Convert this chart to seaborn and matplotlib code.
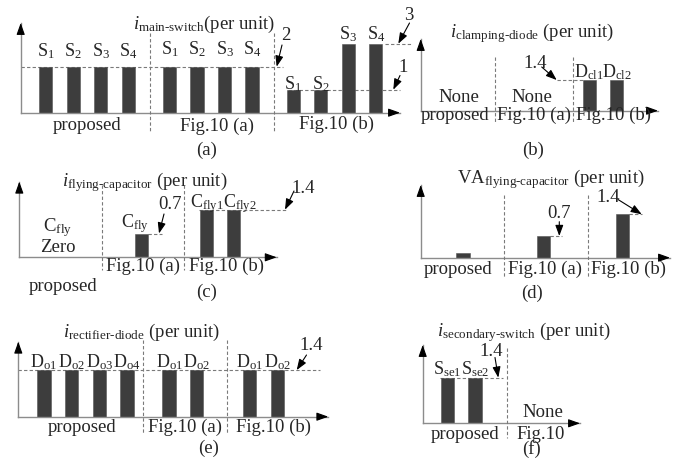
import numpy as np
import pandas as pd
import matplotlib.pyplot as plt
from matplotlib.lines import Line2D
import seaborn as sns

W, H = 697, 472

# ---- data (per unit values) ----
groups = ['proposed', 'Fig.10 (a)', 'Fig.10 (b)']

a_labels = [['S$_1$', 'S$_2$', 'S$_3$', 'S$_4$'],
            ['S$_1$', 'S$_2$', 'S$_3$', 'S$_4$'],
            ['S$_1$', 'S$_2$', 'S$_3$', 'S$_4$']]
a_values = [[2, 2, 2, 2], [2, 2, 2, 2], [1, 1, 3, 3]]

b_labels = [[], [], [r'D$_{\mathrm{cl1}}$', r'D$_{\mathrm{cl2}}$']]
b_values = [[], [], [1.4, 1.4]]

c_labels = [[], [r'C$_{\mathrm{fly}}$'], [r'C$_{\mathrm{fly1}}$', r'C$_{\mathrm{fly2}}$']]
c_values = [[], [0.7], [1.4, 1.4]]

d_labels = [[''], [''], ['']]
d_values = [[0.14], [0.7], [1.4]]

e_labels = [[r'D$_{\mathrm{o1}}$', r'D$_{\mathrm{o2}}$', r'D$_{\mathrm{o3}}$', r'D$_{\mathrm{o4}}$'],
            [r'D$_{\mathrm{o1}}$', r'D$_{\mathrm{o2}}$'],
            [r'D$_{\mathrm{o1}}$', r'D$_{\mathrm{o2}}$']]
e_values = [[1.4, 1.4, 1.4, 1.4], [1.4, 1.4], [1.4, 1.4]]

f_labels = [[r'S$_{\mathrm{se1}}$', r'S$_{\mathrm{se2}}$'], []]
f_values = [[1.4, 1.4], []]

# ---- style ----
sns.set_style('white')
plt.rcParams['font.family'] = ['Liberation Serif', 'DejaVu Serif']
plt.rcParams['mathtext.fontset'] = 'custom'
plt.rcParams['mathtext.rm'] = 'Liberation Serif'
plt.rcParams['mathtext.it'] = 'Liberation Serif:italic'

BAR = '#3d3d3d'
AXC = '#8c8c8c'
DASH = '#7a7a7a'
BAR_PX = 13.3
FS = 13.5

fig = plt.figure(figsize=(W / 100, H / 100), dpi=100)


def fxy(x, y):
    return x / W, 1 - y / H


# layout of every panel, in pixels of the 697x472 picture
# arrows: (text, text x, text baseline y, tail x, tail y, tip x, level)
panels = [
    dict(labels=a_labels, values=a_values, frame=(20.7, 112.7, 400, 23),
         pitch=27.5, first=45.8, yscale=23, starts=[0, 4.5, 9],
         lab_off=[[10] * 4, [12] * 4, [0.5, 0.5, 4, 4]],
         title=(133, 29.3, r'$i_{\text{main-switch}}$(per unit)'),
         texts=[('proposed', 87.3, 130), ('Fig.10 (a)', 217.3, 130.5), ('Fig.10 (b)', 336.7, 128.5)],
         letter=(206.7, 155, '(a)'), seps=([150, 274], 33, 132),
         refs=[(2, 20.7, 283.3), (1, 288, 400), (3, 385, 412)],
         arrows=[('2', 286, 40, 282, 45, 276.7, 2), ('1', 403.3, 71.7, 400, 75.5, 393.3, 1),
                 ('3', 408.3, 20, 409.5, 23, 398.3, 3)]),
    dict(labels=b_labels, values=b_values, frame=(420.7, 110.7, 658, 39),
         pitch=27.3, first=589.3, yscale=21.9, starts=[None, None, 0],
         lab_off=[None, None, [3, 3]],
         title=(450, 37.7, r'$i_{\text{clamping-diode}}$ (per unit)'),
         texts=[('proposed', 455, 120), ('Fig.10 (a)', 534, 120), ('Fig.10 (b)', 614, 120),
                ('None', 459, 102), ('None', 531.7, 102)],
         letter=(532.7, 155, '(b)'), seps=([495, 573.3], 57, 122),
         refs=[(1.4, 556.7, 583)],
         arrows=[('1.4', 535, 68.3, 541.7, 67, 556.7, 1.4)]),
    dict(labels=c_labels, values=c_values, frame=(19.3, 257.3, 276.7, 181.7),
         pitch=27.3, first=141.7, yscale=34, starts=[None, 0, 2.37],
         lab_off=[None, [6], [2, 2]], lab_dx=[None, [-7], [0, 6]],
         title=(61.7, 186, r'$i_{\text{flying-capacitor}}$ (per unit)'),
         texts=[('Fig.10 (a)', 143.3, 270.7), ('Fig.10 (b)', 226.7, 270.7), ('proposed', 63.3, 291),
                (r'C$_{\mathrm{fly}}$', 58, 231.7), ('Zero', 58, 251.7)],
         letter=(206.7, 296.7, '(c)'), seps=([101.7, 184.3], 185, 270),
         refs=[(0.7, 148, 161.7), (1.4, 199, 286.7)],
         arrows=[('0.7', 170, 209.3, 164, 214, 159, 0.7), ('1.4', 303.3, 193.3, 294, 191, 285, 1.4)]),
    dict(labels=d_labels, values=d_values, frame=(420.7, 257.7, 670, 185),
         pitch=27.3, first=463, yscale=31, starts=[0, 2.94, 5.84],
         lab_off=[None, None, None],
         title=(456.7, 183.3, r'VA$_{\text{flying-capacitor}}$ (per unit)'),
         texts=[('proposed', 458.3, 274), ('Fig.10 (a)', 545, 274), ('Fig.10 (b)', 628.3, 274)],
         letter=(531.7, 298.3, '(d)'), seps=([504, 587.7], 195, 277.7),
         refs=[(0.7, 550, 561.7), (1.4, 629, 641.7)],
         arrows=[('0.7', 559.3, 218.3, 559.3, 221.7, 559.3, 0.7),
                 ('1.4', 608.3, 201.7, 618, 199.5, 641.7, 1.4)]),
    dict(labels=e_labels, values=e_values, frame=(18.3, 416.7, 328.3, 341.7),
         pitch=27.67, first=44, yscale=33.3, starts=[0, 4.52, 7.43],
         lab_off=[[3] * 4, [3] * 2, [3] * 2],
         title=(63.3, 337.3, r'$i_{\text{rectifier-diode}}$ (per unit)'),
         texts=[('proposed', 81.7, 431.7), ('Fig.10 (a)', 185, 431.7), ('Fig.10 (b)', 273.3, 431.7)],
         letter=(208.3, 452.7, '(e)'), seps=([143.3, 226.7], 340, 433.3),
         refs=[(1.4, 18.3, 320)],
         arrows=[('1.4', 311, 349.5, 306.5, 355, 296.7, 1.4)]),
    dict(labels=f_labels, values=f_values, frame=(422.7, 423.3, 580, 345),
         pitch=27.7, first=447.3, yscale=32.6, starts=[0, None],
         lab_off=[[3, 3], None],
         title=(437.3, 336.7, r'$i_{\text{secondary-switch}}$ (per unit)'),
         texts=[('proposed', 465, 439.3), ('Fig.10', 540.7, 439.3), ('None', 543.3, 417.3)],
         letter=(531.7, 454, '(f)'), seps=([507.3], 348.3, 438.3),
         refs=[(1.4, 440, 503.3)],
         arrows=[('1.4', 491, 356, 495, 357.5, 498.3, 1.4)]),
]

head = dict(arrowstyle='-|>,head_length=0.7,head_width=0.25', mutation_scale=10,
            color='black', lw=0.8, shrinkA=0, shrinkB=0)
pointer = dict(arrowstyle='-|>,head_length=0.65,head_width=0.24', mutation_scale=10,
               color='black', lw=0.8, shrinkA=0, shrinkB=0)

for P in panels:
    ox, oy, tx, ty = P['frame']
    ax = fig.add_axes([ox / W, 1 - oy / H, (tx - ox) / W, (oy - ty) / H])
    ax.set_facecolor('none')
    pitch, first = P['pitch'], P['first']

    def dx(px, pitch=pitch, first=first):
        return (px - first) / pitch

    lab_dx = P.get('lab_dx', [None] * len(P['labels']))
    rows = []
    for g, (labs, vals) in enumerate(zip(P['labels'], P['values'])):
        for i, (lab, v) in enumerate(zip(labs, vals)):
            off = P['lab_off'][g][i] if P['lab_off'][g] else 0
            shift = lab_dx[g][i] if lab_dx[g] else 0
            rows.append(dict(pos=P['starts'][g] + i, value=v, label=lab, off=off, shift=shift))
    df = pd.DataFrame(rows)
    pos = np.unique(df['pos'])
    native = np.diff(pos).min() if len(pos) > 1 else 1
    sns.barplot(data=df, x='pos', y='value', native_scale=True, orient='x',
                width=BAR_PX / pitch / native, color=BAR, saturation=1,
                edgecolor='#555555', linewidth=0.4, errorbar=None, ax=ax, zorder=2)

    ax.set_xlim(dx(ox), dx(tx))
    ax.set_ylim(0, (oy - ty) / P['yscale'])
    ax.set_xticks([])
    ax.set_yticks([])
    ax.set_xlabel('')
    ax.set_ylabel('')
    for s in ['top', 'right']:
        ax.spines[s].set_visible(False)
    for s in ['left', 'bottom']:
        ax.spines[s].set_color(AXC)
        ax.spines[s].set_linewidth(1.0)
    ax.annotate('', xy=(0, 1), xycoords='axes fraction', xytext=(0, -7),
                textcoords='offset points', arrowprops=head, annotation_clip=False)
    ax.annotate('', xy=(1, 0), xycoords='axes fraction', xytext=(-7, 0),
                textcoords='offset points', arrowprops=head, annotation_clip=False)

    # bar labels
    for _, r in df.iterrows():
        if r['label']:
            ax.annotate(r['label'], xy=(r['pos'], r['value']),
                        xytext=(r['shift'] * 0.72, r['off'] * 0.72),
                        textcoords='offset points', ha='center', va='baseline',
                        fontsize=FS - 0.5, annotation_clip=False)

    # dashed reference levels
    for v, x0, x1 in P['refs']:
        ax.hlines(v, dx(x0), dx(x1), colors=DASH, linestyles=(0, (3, 2)), lw=0.8,
                  clip_on=False, zorder=1)

    # value pointers: text in picture pixels, arrow tip on the level line
    for txt, x, y, ax_, ay_, tipx, v in P['arrows']:
        fig.text(*fxy(x, y), txt, ha='center', va='baseline', fontsize=FS)
        ax.annotate('', xy=(dx(tipx), v), xycoords='data', xytext=fxy(ax_, ay_),
                    textcoords='figure fraction', arrowprops=pointer,
                    annotation_clip=False, zorder=4)

    # group separators
    xs, y0, y1 = P['seps']
    for x in xs:
        fig.add_artist(Line2D([x / W, x / W], [1 - y0 / H, 1 - y1 / H], transform=fig.transFigure,
                              color=DASH, lw=0.8, ls=(0, (3, 2))))

    tx_, ty_, ttl = P['title']
    fig.text(*fxy(tx_, ty_), ttl, ha='left', va='baseline', fontsize=FS)
    for s, x, y in P['texts']:
        fig.text(*fxy(x, y), s, ha='center', va='baseline', fontsize=FS)
    lx, ly, lt = P['letter']
    fig.text(*fxy(lx, ly), lt, ha='center', va='baseline', fontsize=FS)

fig.savefig('out.png', dpi=100)
